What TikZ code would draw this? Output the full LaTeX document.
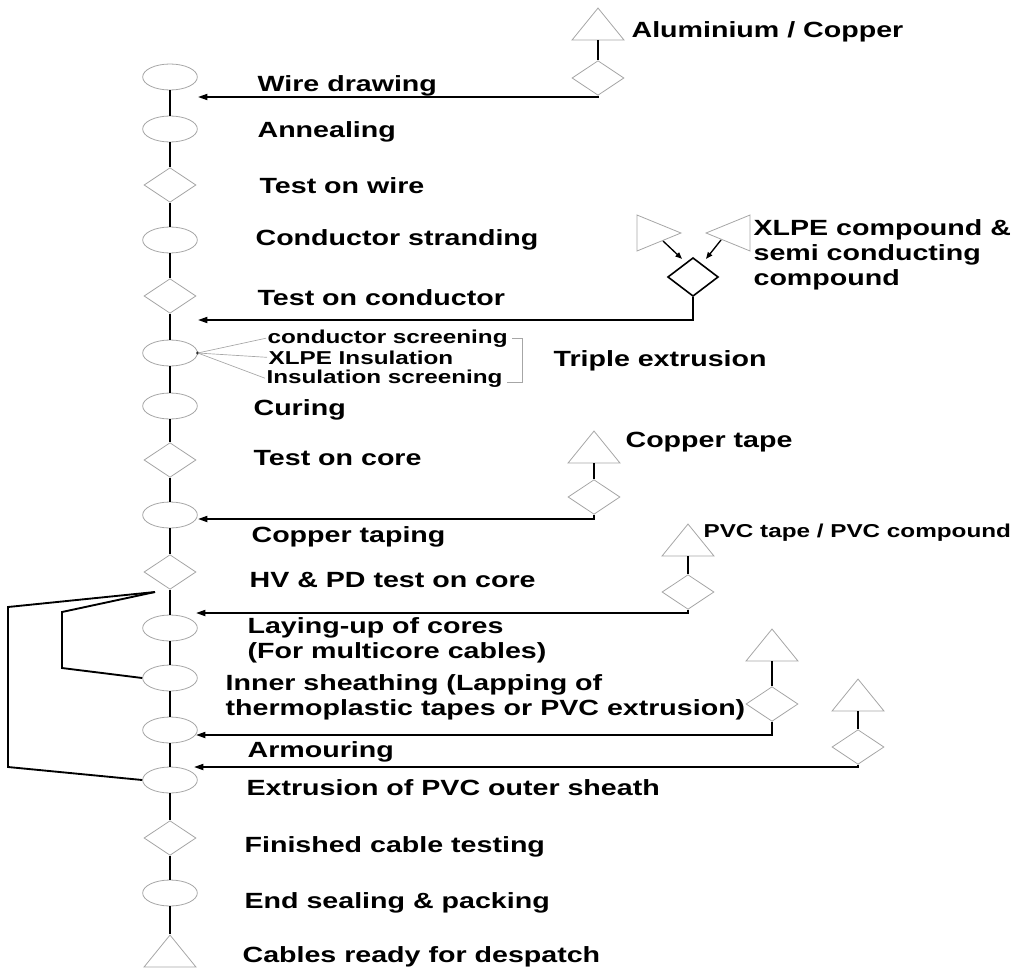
\documentclass[tikz,border=0pt]{standalone}
\usepackage{fontspec}
\setmainfont[FakeStretch=1.3]{Liberation Sans}
\usetikzlibrary{arrows.meta,positioning,calc,shapes.geometric}

\begin{document}
\begin{tikzpicture}[
  x=0.75pt, y=-0.75pt,
  oper/.style={draw=gray!70, line width=0.6pt, ellipse, minimum width=41pt, minimum height=19.5pt, inner sep=0pt},
  insp/.style={draw=gray!70, line width=0.6pt, diamond, minimum width=39pt, minimum height=26pt, inner sep=0pt},
  store/.style={draw=gray!70, line width=0.6pt, isosceles triangle, isosceles triangle stretches, shape border rotate=90, minimum width=39pt, minimum height=24pt, inner sep=0pt, anchor=apex},
  txt/.style={font=\bfseries\fontsize{16.5}{18.8}\selectfont, anchor=base west, align=left, inner sep=1pt},
  stxt/.style={font=\bfseries\fontsize{14}{16}\selectfont, anchor=base west, inner sep=1pt},
  flow/.style={line width=1.4pt},
  feed/.style={line width=1.3pt, -{Triangle[length=7pt,width=4.5pt]}},
  fan/.style={draw=gray!70, line width=0.5pt}
]
\useasboundingbox (0,0) rectangle (1019,974);

% main process column
\node[oper] (wire) at (170,77) {};
\node[oper] (anneal) at (170,129) {};
\node[insp] (twire) at (170,185) {};
\node[oper] (strand) at (170,240) {};
\node[insp] (tcond) at (170,296) {};
\node[oper] (triple) at (170,353) {};
\node[oper] (curing) at (170,406) {};
\node[insp] (tcore) at (170,460) {};
\node[oper] (cutape) at (170,515) {};
\node[insp] (hvpd) at (170,572) {};
\node[oper] (layup) at (170,628) {};
\node[oper] (inner) at (170,678) {};
\node[oper] (armour) at (170,730) {};
\node[oper] (outer) at (170,780) {};
\node[insp] (finish) at (170,838) {};
\node[oper] (endseal) at (170,893) {};
\node[store] (ready) at (170,934) {};

\foreach \a/\b in {wire/anneal, anneal/twire, twire/strand, strand/tcond, tcond/triple,
  triple/curing, curing/tcore, tcore/cutape, cutape/hvpd, hvpd/layup, layup/inner,
  inner/armour, armour/outer, outer/finish, finish/endseal, endseal/ready}
  \draw[flow] (\a.south) -- (\b.north);

% labels of the column
\node[txt] (lwire) at (256,91) {Wire drawing};
\node[txt] (lanneal) at (256,137) {Annealing};
\node[txt] (ltwire) at (258,193) {Test on wire};
\node[txt] (lstrand) at (254,245) {Conductor stranding};
\node[txt] (ltcond) at (256,305) {Test on conductor};
\node[txt] (lcuring) at (252,415) {Curing};
\node[txt] (ltcore) at (252,465) {Test on core};
\node[txt] (lcutape) at (250,542) {Copper taping};
\node[txt] (lhvpd) at (248,587) {HV \& PD test on core};
\node[txt, anchor=west] (llayup) at (246,640) {Laying-up of cores\\(For multicore cables)};
\node[txt, anchor=west] (linner) at (224,697.5) {Inner sheathing (Lapping of\\thermoplastic tapes or PVC extrusion)};
\node[txt] (larmour) at (246,757) {Armouring};
\node[txt] (louter) at (245,795) {Extrusion of PVC outer sheath};
\node[txt] (lfinish) at (243,852) {Finished cable testing};
\node[txt] (lend) at (243,908) {End sealing \& packing};
\node[txt] (lready) at (241,962) {Cables ready for despatch};

% triple extrusion
\node[stxt] (cscr) at (266,343) {conductor screening};
\node[stxt] (xins) at (267,364) {XLPE Insulation};
\node[stxt] (iscr) at (265,383) {Insulation screening};
\fill (triple.east) circle (1.2pt);
\foreach \t in {cscr, xins, iscr}
  \draw[fan] (triple.east) -- (\t.west);
\draw[fan] ($(cscr.east)+(3,0)$) -- ++(10,0) coordinate (bk) |- ($(iscr.east)+(3,4)$);
\node[txt] (ltriple) at (552,366) {Triple extrusion};

% aluminium / copper
\node[store] (alut) at (598,7) {};
\node[insp] (alud) at (598,78) {};
\node[txt] (lalu) at (630,38) {Aluminium / Copper};
\coordinate (wirein) at (198,97);
\draw[flow] (alut.south) -- (alud.north);
\draw[feed] (alud.south) |- (wirein);

% XLPE compounds
\node[store, shape border rotate=0, minimum width=27pt, minimum height=33pt] (ltri) at (682,233) {};
\node[store, shape border rotate=180, minimum width=27pt, minimum height=33pt] (rtri) at (705,233) {};
\node[insp, draw=black, line width=1.2pt, minimum width=38pt, minimum height=29pt] (xlped) at (693,277) {};
\node[txt, anchor=west] (lxlpe) at (752,255) {XLPE compound \&\\semi conducting\\compound};
\coordinate (la) at (663,241);
\coordinate (ra) at (721,240);
\draw[line width=1pt, -{Triangle[length=5pt,width=4pt]}] (la) -- ($(xlped.north)+(-11,2)$);
\draw[line width=1pt, -{Triangle[length=5pt,width=4pt]}] (ra) -- ($(xlped.north)+(13,2)$);
\coordinate (tcondin) at (198,320);
\draw[feed] (xlped.south) |- (tcondin);

% copper tape
\node[store] (cutt) at (594,430) {};
\node[insp] (cutd) at (594,497) {};
\node[txt] (lcut) at (624,447) {Copper tape};
\coordinate (cutapein) at (198,519);
\draw[flow] (cutt.south) -- (cutd.north);
\draw[feed] (cutd.south) |- (cutapein);

% PVC tape / compound
\node[store] (pvct) at (688,523) {};
\node[insp] (pvcd) at (688,592) {};
\node[stxt] (lpvc) at (702,537) {PVC tape / PVC compound};
\coordinate (layupin) at (196,613);
\draw[flow] (pvct.south) -- (pvcd.north);
\draw[feed] (pvcd.south) |- (layupin);

% armouring material
\node[store] (armt) at (772,628) {};
\node[insp] (armd) at (772,704) {};
\coordinate (armourin) at (196,735);
\draw[flow] (armt.south) -- (armd.north);
\draw[feed] (armd.south) |- (armourin);

% outer sheath material
\node[store] (outt) at (858,678) {};
\node[insp] (outd) at (858,747) {};
\coordinate (outerin) at (194,767);
\draw[flow] (outt.south) -- (outd.north);
\draw[feed] (outd.south) |- (outerin);

% bypass for single core cables
\coordinate (split) at (155,592);
\draw[flow] (split) -- (62,612) -- (62,668) -- (inner.west);
\draw[flow] (split) -- (8,607) -- (8,767) -- (outer.west);

\end{tikzpicture}
\end{document}
